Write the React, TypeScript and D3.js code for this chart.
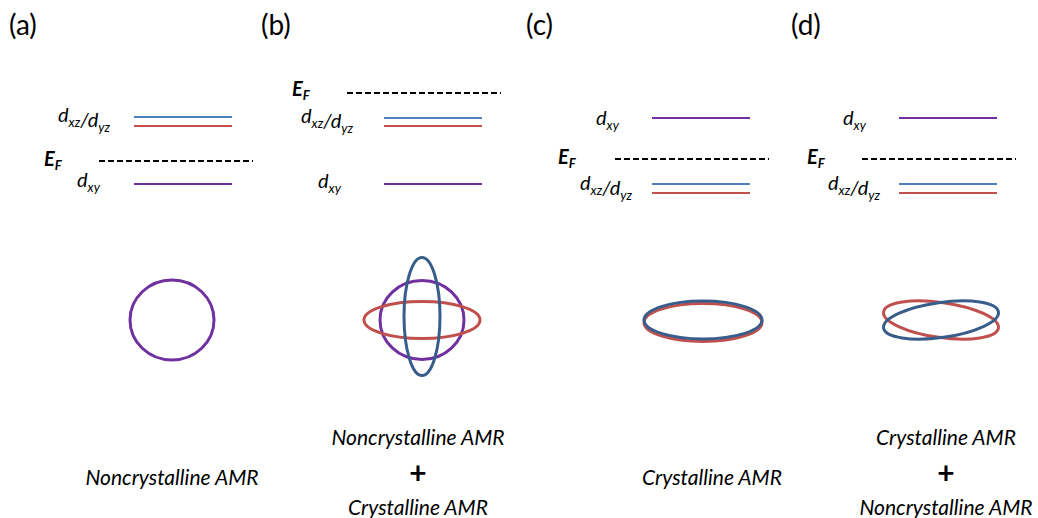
import React from "react";
import * as d3 from "d3";

// panels
const panelTags = ["(a)", "(b)", "(c)", "(d)"];

// energies (arbitrary units, higher = up)
const eXz = [83, 82, 16, 16]; // blue level
const eYz = [74, 74, 7, 7]; // red level
const eXy = [16, 16, 82, 82]; // purple level
const eFermi = [39, 107, 41, 41];

// fermi surface semi-axes (k units), 0 = not drawn
const xyRx = [42, 42, 0, 0];
const xyRy = [40, 39.5, 0, 0];
const yzRx = [0, 58, 59, 58]; // red orbit
const yzRy = [0, 18.5, 19, 17.5];
const yzTilt = [0, 0, 0, 8];
const yzShift = [0, 0, -2.5, 0];
const xzRx = [0, 18, 59, 58]; // blue orbit
const xzRy = [0, 59, 19, 17.5];
const xzTilt = [0, 0, 0, -8];
const xzShift = [0, 3.5, 0, 0];

// captions
const captionLines = [
  ["Noncrystalline AMR"],
  ["Noncrystalline AMR", "+", "Crystalline AMR"],
  ["Crystalline AMR"],
  ["Crystalline AMR", "+", "Noncrystalline AMR"],
];

// layout
const W = 1038;
const H = 518;
const tagX = [9, 261, 526, 791];
const levelX = [134, 384, 652, 899];
const levelW = 98;
const dashX = [99, 347, 615, 862];
const dashW = 154;
const orbitCx = [172, 422, 703, 941];
const orbitCy = 320;
const efX = [44, 292, 558, 807];
const efDy = [5, 3, 5, 5];
const xzLabel = [
  [58, 122],
  [301, 123],
  [580, 190],
  [828, 190],
];
const xyLabel = [
  [77, 187],
  [318, 188],
  [596, 125],
  [843, 125],
];
const captionX = [172, 418, 712, 946];

const PURPLE = "#7030A0";
const BLUE = "#4F81BD";
const RED = "#C0504D";
const DBLUE = "#385D8A";
const FONT = "Lato, 'Open Sans', sans-serif";

const y = d3.scaleLinear().domain([0, 100]).range([200, 100]);
const k = d3.scaleLinear().domain([0, 1]).range([0, 1]);

function Sub({ base, sub, size, drop = 5 }: { base: string; sub: string; size: number; drop?: number }) {
  return (
    <>
      <tspan>{base}</tspan>
      <tspan dy={drop} fontSize={size}>
        {sub}
      </tspan>
      <tspan dy={-drop}></tspan>
    </>
  );
}

export default function App() {
  return (
    <svg
      width={W}
      height={H}
      style={{ position: "absolute", left: 0, top: 0, background: "#fff" }}
      fontFamily={FONT}
    >
      {panelTags.map((tag, i) => {
        const orbits = [];
        if (xyRx[i] > 0)
          orbits.push(
            <ellipse
              key="xy"
              cx={orbitCx[i]}
              cy={orbitCy}
              rx={k(xyRx[i])}
              ry={k(xyRy[i])}
              fill="none"
              stroke={PURPLE}
              strokeWidth={3}
            />
          );
        if (yzRx[i] > 0)
          orbits.push(
            <ellipse
              key="yz"
              cx={0}
              cy={0}
              rx={k(yzRx[i])}
              ry={k(yzRy[i])}
              transform={`translate(${orbitCx[i]},${orbitCy - yzShift[i]}) rotate(${yzTilt[i]})`}
              fill="none"
              stroke={RED}
              strokeWidth={3}
            />
          );
        if (xzRx[i] > 0)
          orbits.push(
            <ellipse
              key="xz"
              cx={0}
              cy={0}
              rx={k(xzRx[i])}
              ry={k(xzRy[i])}
              transform={`translate(${orbitCx[i]},${orbitCy - xzShift[i]}) rotate(${xzTilt[i]})`}
              fill="none"
              stroke={DBLUE}
              strokeWidth={3}
            />
          );
        const lines = captionLines[i];
        const capY = lines.length === 1 ? [485] : [445, 484, 515];
        return (
          <g key={tag}>
            <text x={tagX[i]} y={35} fontSize={28} fill="#000">
              {tag}
            </text>
            <line
              x1={dashX[i]}
              x2={dashX[i] + dashW}
              y1={y(eFermi[i])}
              y2={y(eFermi[i])}
              stroke="#000"
              strokeWidth={2}
              strokeDasharray="6 3"
            />
            <line x1={levelX[i]} x2={levelX[i] + levelW} y1={y(eXz[i])} y2={y(eXz[i])} stroke={BLUE} strokeWidth={2} />
            <line x1={levelX[i]} x2={levelX[i] + levelW} y1={y(eYz[i])} y2={y(eYz[i])} stroke={RED} strokeWidth={2} />
            <line x1={levelX[i]} x2={levelX[i] + levelW} y1={y(eXy[i])} y2={y(eXy[i])} stroke={PURPLE} strokeWidth={2} />
            <text x={efX[i]} y={y(eFermi[i]) + efDy[i]} fontSize={20} fontStyle="italic" fontWeight="bold">
              <Sub base="E" sub="F" size={13} drop={4} />
            </text>
            <text x={xzLabel[i][0]} y={xzLabel[i][1]} fontSize={20} fontStyle="italic">
              <Sub base="d" sub="xz" size={13} />
              <tspan>/</tspan>
              <Sub base="d" sub="yz" size={13} />
            </text>
            <text x={xyLabel[i][0]} y={xyLabel[i][1]} fontSize={20} fontStyle="italic">
              <Sub base="d" sub="xy" size={13} />
            </text>
            {orbits}
            {lines.map((t, j) =>
              t === "+" ? (
                <text key={j} x={captionX[i]} y={capY[j]} fontSize={30} fontWeight="bold" textAnchor="middle">
                  +
                </text>
              ) : (
                <text key={j} x={captionX[i]} y={capY[j]} fontSize={21} fontStyle="italic" textAnchor="middle">
                  {t}
                </text>
              )
            )}
          </g>
        );
      })}
    </svg>
  );
}
